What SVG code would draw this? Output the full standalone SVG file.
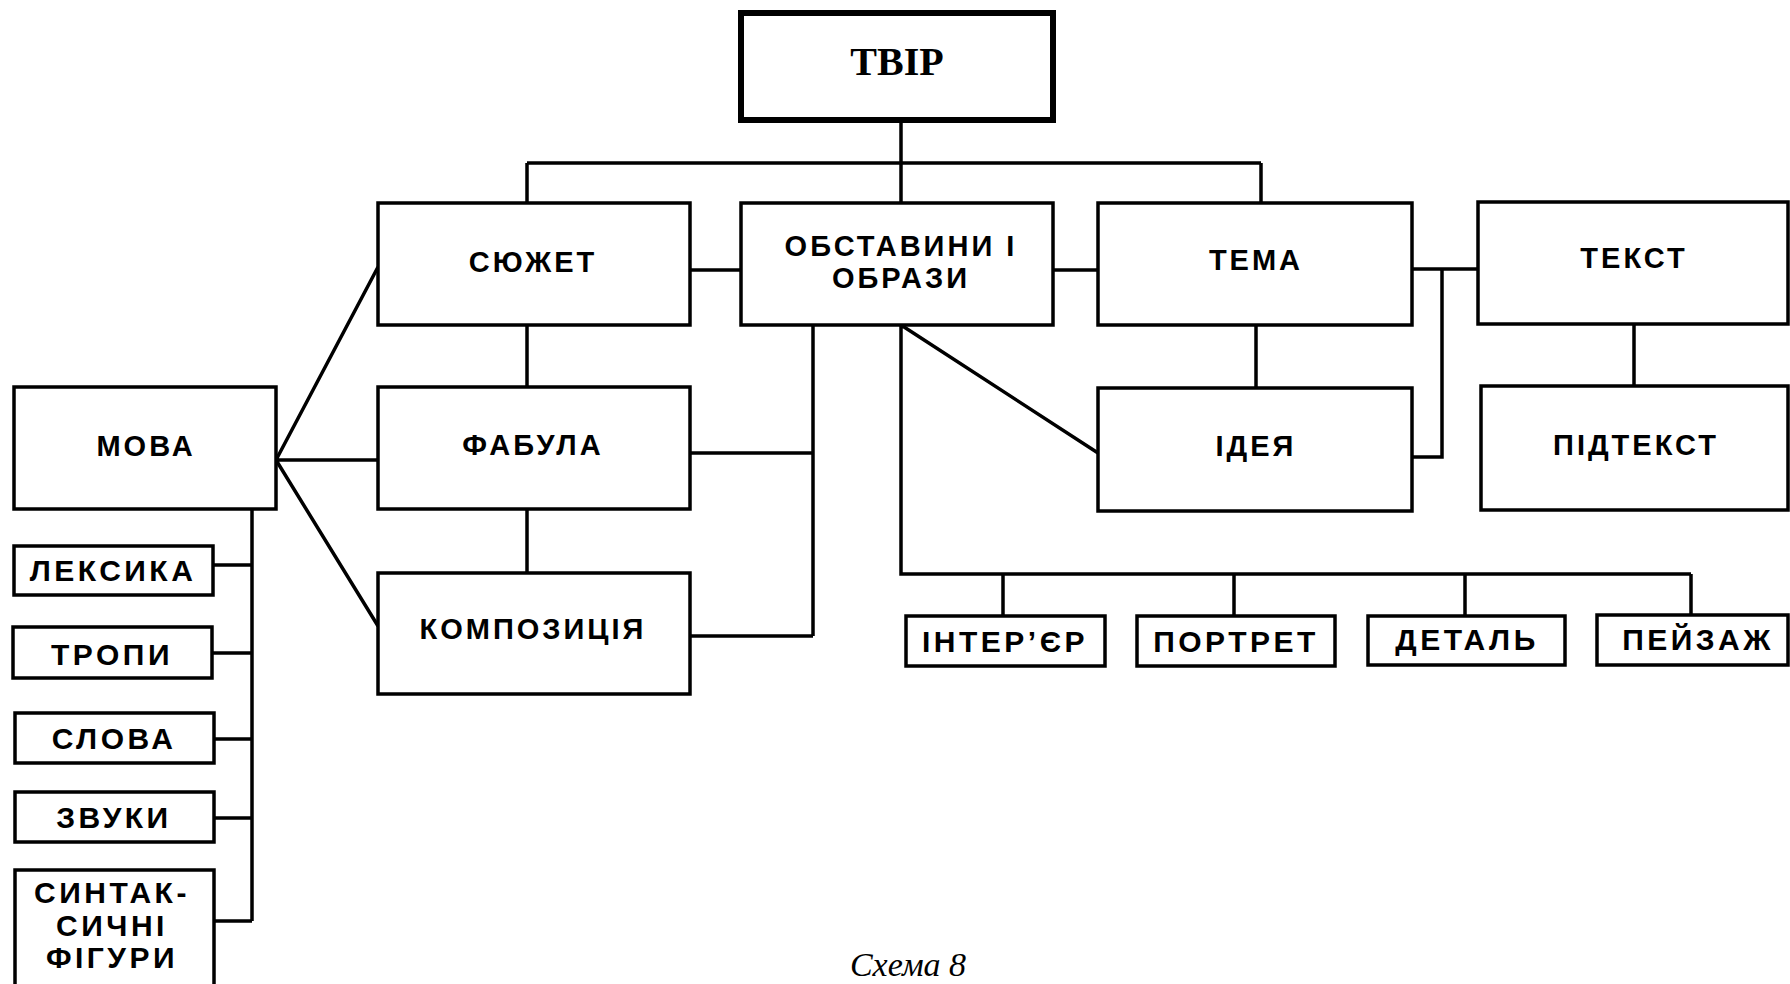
<svg xmlns="http://www.w3.org/2000/svg" width="1790" height="984" viewBox="0 0 1790 984">
<style>
.b{fill:#fff;stroke:#000;stroke-width:3.5}
.c{fill:none;stroke:#000;stroke-width:3.5}
.t{font-family:"Liberation Sans","DejaVu Sans",sans-serif;font-weight:bold;font-size:29px;letter-spacing:3px;text-anchor:middle;fill:#000}
.s{font-size:30px;letter-spacing:3.5px}
</style>
<rect width="1790" height="984" fill="#fff"/>
<g id="connectors">
<path class="c" d="M901 121V203M527 163H1261M527 163V203M1261 163V203"/>
<path class="c" d="M690 270H741M1053 270H1098M1412 269H1478M1442 269V457H1412"/>
<path class="c" d="M527 325V387M527 509V573M1256 325V388M1634 324V386"/>
<path class="c" d="M276 460L378 267M276 460H378M276 460L378 626"/>
<path class="c" d="M813 325V636M690 453H813M690 636H813"/>
<path class="c" d="M901 325L1098 453M901 325V574H1691M1003 574V616M1234 574V616M1465 574V616M1691 574V616"/>
<path class="c" d="M252 509V921M213 565H252M213 653H252M213 739H252M213 818H252M213 921H252"/>
</g>
<g id="tvir"><rect class="b" x="741" y="13" width="312" height="107" style="stroke-width:6"/><text x="897" y="75" style="font-family:'Liberation Serif',serif;font-weight:bold;font-size:40px;text-anchor:middle">ТВІР</text></g>
<g id="syuzhet"><rect class="b" x="378" y="203" width="312" height="122"/><text class="t" x="533" y="272">СЮЖЕТ</text></g>
<g id="obstavyny"><rect class="b" x="741" y="203" width="312" height="122"/><text class="t" x="901" y="256">ОБСТАВИНИ І</text><text class="t" x="901" y="288">ОБРАЗИ</text></g>
<g id="tema"><rect class="b" x="1098" y="203" width="314" height="122"/><text class="t" x="1256" y="270">ТЕМА</text></g>
<g id="tekst"><rect class="b" x="1478" y="202" width="310" height="122"/><text class="t" x="1634" y="268">ТЕКСТ</text></g>
<g id="mova"><rect class="b" x="14" y="387" width="262" height="122"/><text class="t" x="146" y="456">МОВА</text></g>
<g id="fabula"><rect class="b" x="378" y="387" width="312" height="122"/><text class="t" x="533" y="455">ФАБУЛА</text></g>
<g id="kompozytsiya"><rect class="b" x="378" y="573" width="312" height="121"/><text class="t" x="533" y="639">КОМПОЗИЦІЯ</text></g>
<g id="ideya"><rect class="b" x="1098" y="388" width="314" height="123"/><text class="t" x="1256" y="456">ІДЕЯ</text></g>
<g id="pidtekst"><rect class="b" x="1481" y="386" width="307" height="124"/><text class="t" x="1636" y="455">ПІДТЕКСТ</text></g>
<g id="interyer"><rect class="b" x="906" y="616" width="199" height="50"/><text class="t s" x="1005" y="652">ІНТЕР’ЄР</text></g>
<g id="portret"><rect class="b" x="1137" y="616" width="198" height="50"/><text class="t s" x="1236" y="652">ПОРТРЕТ</text></g>
<g id="detal"><rect class="b" x="1368" y="616" width="197" height="49"/><text class="t s" x="1467" y="650">ДЕТАЛЬ</text></g>
<g id="peyzazh"><rect class="b" x="1597" y="615" width="191" height="50"/><text class="t s" x="1698" y="650">ПЕЙЗАЖ</text></g>
<g id="leksyka"><rect class="b" x="14" y="546" width="199" height="49"/><text class="t s" x="113" y="581">ЛЕКСИКА</text></g>
<g id="tropy"><rect class="b" x="13" y="627" width="199" height="51"/><text class="t s" x="112" y="665">ТРОПИ</text></g>
<g id="slova"><rect class="b" x="15" y="713" width="199" height="50"/><text class="t s" x="114" y="749">СЛОВА</text></g>
<g id="zvuky"><rect class="b" x="15" y="792" width="199" height="50"/><text class="t s" x="114" y="828">ЗВУКИ</text></g>
<g id="syntaksychni"><rect class="b" x="15" y="870" width="199" height="122"/><text class="t s" x="112" y="903">СИНТАК-</text><text class="t s" x="112" y="936">СИЧНІ</text><text class="t s" x="112" y="968">ФІГУРИ</text></g>
<text x="908" y="976" style="font-family:'Liberation Serif',serif;font-style:italic;font-size:34px;text-anchor:middle">Схема 8</text>
</svg>
